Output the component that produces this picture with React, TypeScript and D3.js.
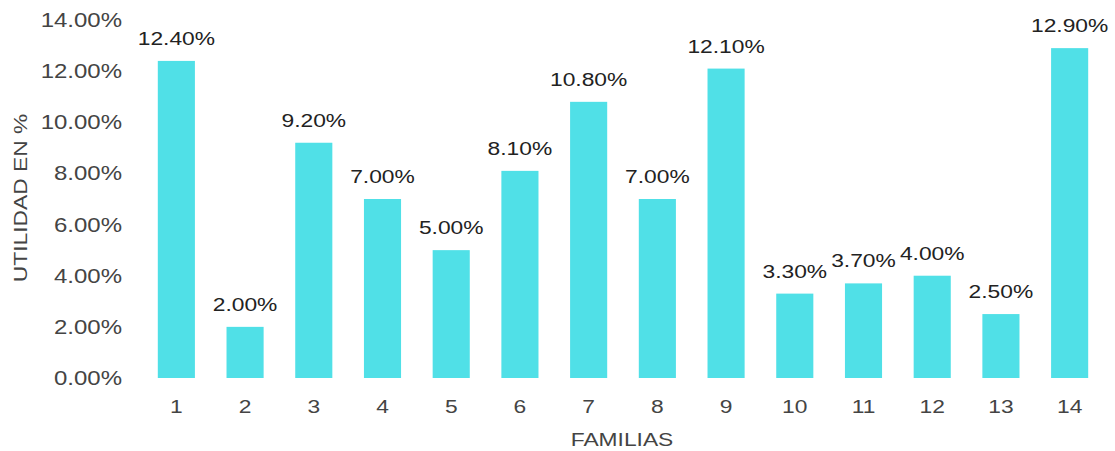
import React from "react";
import * as d3 from "d3";

const categories = ["1", "2", "3", "4", "5", "6", "7", "8", "9", "10", "11", "12", "13", "14"];
const values = [12.4, 2.0, 9.2, 7.0, 5.0, 8.1, 10.8, 7.0, 12.1, 3.3, 3.7, 4.0, 2.5, 12.9];
const yTicks = [0, 2, 4, 6, 8, 10, 12, 14];
const xTitle = "FAMILIAS";
const yTitle = "UTILIDAD EN %";

const W = 1115;
const H = 451;
const SX = 1.2;
const FONT = "'Liberation Sans', Arial, sans-serif";

export default function App() {
  const x = d3.scaleBand<string>().domain(categories).range([142, 1104]).paddingInner(0.46).paddingOuter(0.23);
  const y = d3.scaleLinear().domain([0, 14]).range([378, 20]);
  const fmt = (v: number) => v.toFixed(2) + "%";

  const T = (px: number, py: number, s: string, anchor: string, fill: string, size: number, key?: string, rot = false) => (
    <text
      key={key}
      transform={`translate(${px},${py})${rot ? " rotate(-90)" : ""} scale(${SX},1)`}
      textAnchor={anchor}
      fill={fill}
      fontSize={size}
      fontFamily={FONT}
    >
      {s}
    </text>
  );

  return (
    <svg width={W} height={H} style={{ position: "absolute", left: 0, top: 0, background: "#fff" }}>
      <rect width={W} height={H} fill="#fff" />
      {yTicks.map((t) => T(122, y(t) + 7, fmt(t), "end", "#444", 20, "yt" + t))}
      {categories.map((c, i) => (
        <g key={c}>
          <rect x={x(c)!} y={y(values[i])} width={x.bandwidth()} height={y(0) - y(values[i])} fill="#50e0e7" />
          {T(x(c)! + x.bandwidth() / 2, y(values[i]) - 16, fmt(values[i]), "middle", "#222", 19)}
          {T(x(c)! + x.bandwidth() / 2, 413, c, "middle", "#444", 19)}
        </g>
      ))}
      {T(622, 446, xTitle, "middle", "#444", 19)}
      {T(27, 198, yTitle, "middle", "#444", 19, "ytitle", true)}
    </svg>
  );
}
